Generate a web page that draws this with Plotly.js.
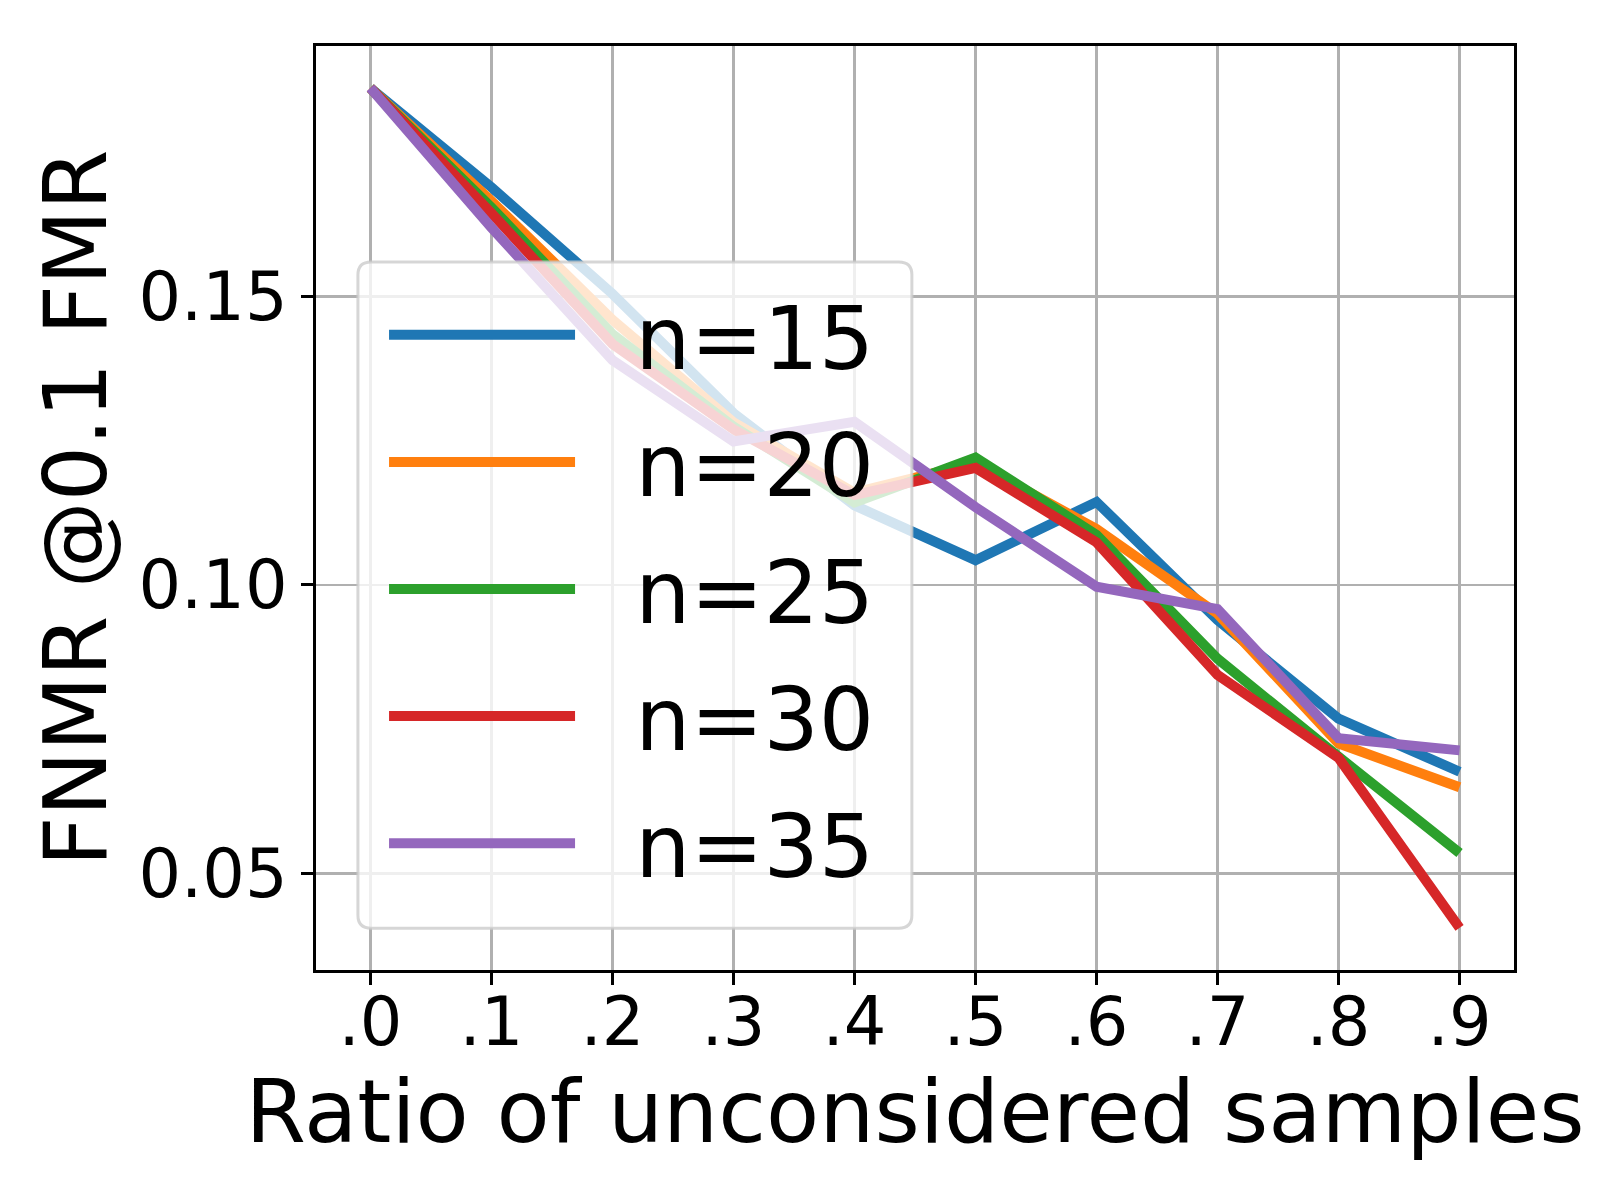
<!DOCTYPE html>
<html>
<head>
<meta charset="utf-8">
<script src="https://cdn.plot.ly/plotly-3.0.1.min.js"></script>
<style>
  body { margin: 0; background: #fff; }
  #graph { width: 1600px; height: 1200px; }
</style>
</head>
<body>
<div id="graph"></div>
<script>
// ratio of samples left out
var ratios = [0, 0.1, 0.2, 0.3, 0.4, 0.5, 0.6, 0.7, 0.8, 0.9];
var ratioLabels = ['.0', '.1', '.2', '.3', '.4', '.5', '.6', '.7', '.8', '.9'];

// FNMR @0.1 FMR for each n
var fnmrN15 = [0.1862, 0.1690, 0.1505, 0.1298, 0.1138, 0.1043, 0.1144, 0.0939, 0.0768, 0.0676];
var fnmrN20 = [0.1862, 0.1666, 0.1460, 0.1282, 0.1160, 0.1212, 0.1097, 0.0950, 0.0725, 0.0649];
var fnmrN25 = [0.1862, 0.1655, 0.1435, 0.1275, 0.1143, 0.1221, 0.1087, 0.0872, 0.0702, 0.0535];
var fnmrN30 = [0.1862, 0.1645, 0.1418, 0.1270, 0.1156, 0.1203, 0.1074, 0.0844, 0.0700, 0.0405];
var fnmrN35 = [0.1862, 0.1620, 0.1390, 0.1249, 0.1283, 0.1135, 0.0997, 0.0958, 0.0734, 0.0713];

var seriesNames = ['n=15', 'n=20', 'n=25', 'n=30', 'n=35'];
var seriesColors = ['#1f77b4', '#ff7f0e', '#2ca02c', '#d62728', '#9467bd'];
var seriesValues = [fnmrN15, fnmrN20, fnmrN25, fnmrN30, fnmrN35];

var font = 'DejaVu Sans, Verdana, sans-serif';

function makeTrace(i){
    return {
        x: ratios,
        y: seriesValues[i],
        mode: 'lines',
        // two nbsp push the label away from the key line like matplotlib does
        name: '\u00a0\u00a0' + seriesNames[i],
        legendgroup: 'g' + i,
        line: {
            color: seriesColors[i],
            width: 10
        }
    };
}

var graphData = [];
for (var i = 0; i < seriesNames.length; i++) {
    graphData.push(makeTrace(i));
}

// legend frame: rounded, semi transparent box (paper coords)
function roundedBox(x0, y0, x1, y1, rx, ry){
    return 'M' + (x0 + rx) + ',' + y1 +
        ' L' + (x1 - rx) + ',' + y1 +
        ' Q' + x1 + ',' + y1 + ' ' + x1 + ',' + (y1 - ry) +
        ' L' + x1 + ',' + (y0 + ry) +
        ' Q' + x1 + ',' + y0 + ' ' + (x1 - rx) + ',' + y0 +
        ' L' + (x0 + rx) + ',' + y0 +
        ' Q' + x0 + ',' + y0 + ' ' + x0 + ',' + (y0 + ry) +
        ' L' + x0 + ',' + (y1 - ry) +
        ' Q' + x0 + ',' + y1 + ' ' + (x0 + rx) + ',' + y1 + ' Z';
}

var layout = {
    width: 1600,
    height: 1200,
    margin: {l: 316, r: 86, t: 46, b: 230},
    paper_bgcolor: '#fff',
    plot_bgcolor: '#fff',
    showlegend: true,
    font: {family: font, color: '#000'},
    xaxis: {
        range: [-0.045, 0.945],
        tickmode: 'array',
        tickvals: ratios,
        ticktext: ratioLabels,
        ticks: 'outside',
        ticklen: 12,
        tickwidth: 3,
        tickcolor: '#000',
        ticklabelstandoff: -20,
        showline: true,
        mirror: true,
        linecolor: '#000',
        linewidth: 3,
        showgrid: true,
        gridcolor: '#b0b0b0',
        gridwidth: 2.7,
        zeroline: false,
        tickfont: {family: font, size: 67, color: '#000'},
        title: {
            text: 'Ratio of unconsidered samples',
            font: {family: font, size: 87, color: '#000'},
            standoff: 20
        }
    },
    yaxis: {
        range: [0.0332, 0.1935],
        tickmode: 'array',
        tickvals: [0.05, 0.10, 0.15],
        ticktext: ['0.05', '0.10', '0.15'],
        ticks: 'outside',
        ticklen: 12,
        tickwidth: 3,
        tickcolor: '#000',
        showline: true,
        mirror: true,
        linecolor: '#000',
        linewidth: 3,
        showgrid: true,
        gridcolor: '#b0b0b0',
        gridwidth: 2.7,
        zeroline: false,
        tickfont: {family: font, size: 67, color: '#000'},
        title: {
            text: 'FNMR @0.1 FMR',
            font: {family: font, size: 87, color: '#000'},
            standoff: 3
        }
    },
    shapes: [{
        type: 'path',
        xref: 'paper',
        yref: 'paper',
        layer: 'above',
        path: roundedBox(0.035, 0.0453, 0.4974, 0.7663, 0.011, 0.014),
        fillcolor: 'rgba(255,255,255,0.8)',
        line: {color: 'rgba(204,204,204,0.8)', width: 3}
    }],
    legend: {
        x: 0.0568,
        y: 0.7557,
        xanchor: 'left',
        yanchor: 'top',
        bgcolor: 'rgba(0,0,0,0)',
        borderwidth: 0,
        itemwidth: 186,
        tracegroupgap: 11,
        font: {family: font, size: 87, color: '#000'}
    }
};

Plotly.newPlot('graph', graphData, layout, {displayModeBar: false, staticPlot: true});
</script>
</body>
</html>
